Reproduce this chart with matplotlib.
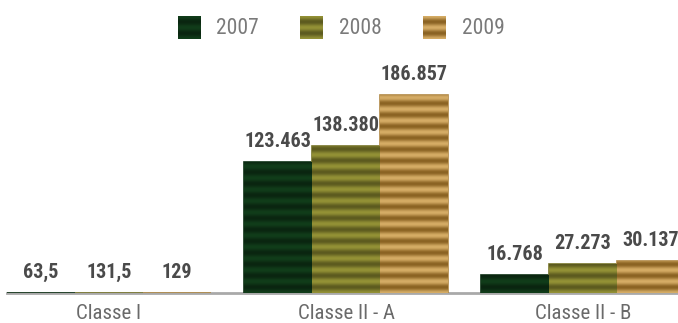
import numpy as np
import matplotlib
matplotlib.use("Agg")
import matplotlib.pyplot as plt
from matplotlib.colors import to_rgb

plt.rcParams['font.family'] = ['Roboto Condensed', 'DejaVu Sans']

categorias = ['Classe I', 'Classe II - A', 'Classe II - B']
anos = ['2007', '2008', '2009']
valores = {
    '2007': [63.5, 123463, 16768],
    '2008': [131.5, 138380, 27273],
    '2009': [129, 186857, 30137],
}
rotulos = {
    '2007': ['63,5', '123.463', '16.768'],
    '2008': ['131,5', '138.380', '27.273'],
    '2009': ['129', '186.857', '30.137'],
}

# tons escuro / claro das listras de cada ano
tons = {
    '2007': ('#0a2510', '#113d1a'),
    '2008': ('#5c5a1f', '#949236'),
    '2009': ('#8a6222', '#d6ad66'),
}
periodo_px = 11.5

W, H = 678, 323
fig = plt.figure(figsize=(W / 100, H / 100), dpi=100)
ax = fig.add_axes([7 / W, 30 / H, 1 - 7 / W, 293 / H])

ymax = 186857 * 293 / 198
largura = 68 / 237
x = np.arange(len(categorias))
x0 = -102 / 237
xlim = (x0, x0 + 671 / 237)
px_por_y = 293 / ymax


def listras(n_px, escuro, claro):
    y = np.linspace(0, n_px, max(int(n_px * 4), 2))
    v = 0.5 + 0.5 * np.cos(2 * np.pi * y / periodo_px)
    e, c = np.array(to_rgb(escuro)), np.array(to_rgb(claro))
    return (e + (c - e) * v[:, None])[:, None, :]


for j, ano in enumerate(anos):
    escuro, claro = tons[ano]
    meio = tuple((np.array(to_rgb(escuro)) + np.array(to_rgb(claro))) / 2)
    pos = x + (j - 1) * largura
    barras = ax.bar(pos, valores[ano], width=largura, color=meio,
                    edgecolor=meio, linewidth=1.2, zorder=3)
    for b, v, r in zip(barras, valores[ano], rotulos[ano]):
        h_px = v * px_por_y
        if h_px > 2:
            img = listras(h_px, escuro, claro)
            im = ax.imshow(img, extent=[b.get_x(), b.get_x() + b.get_width(), 0, v],
                           origin='lower', aspect='auto', interpolation='bilinear',
                           zorder=4)
            im.set_clip_path(b)
        ax.text(b.get_x() + b.get_width() / 2, v + 11 / px_por_y, r,
                ha='center', va='bottom', fontsize=14.5, fontweight='bold',
                color='#4a4a4a', zorder=5)

ax.set_xlim(*xlim)
ax.set_ylim(0, ymax)
ax.set_xticks(x)
ax.set_xticklabels(categorias, fontsize=15, color='#6a6a6a')
ax.tick_params(axis='x', length=0, pad=8)
ax.set_yticks([])
for s in ['top', 'right', 'left']:
    ax.spines[s].set_visible(False)
ax.spines['bottom'].set_color('#a9a9a9')
ax.spines['bottom'].set_linewidth(2)
ax.spines['bottom'].set_zorder(2)

# legenda com quadrados listrados
quad_x = [178, 300, 423]
texto_x = [216, 339, 462]
for ano, qx, tx in zip(anos, quad_x, texto_x):
    escuro, claro = tons[ano]
    lax = fig.add_axes([qx / W, 1 - 39 / H, 23 / W, 23 / H])
    lax.imshow(listras(23, escuro, claro), extent=[0, 1, 0, 1], origin='lower',
               aspect='auto', interpolation='bilinear')
    lax.axis('off')
    fig.text(tx / W, 1 - 28 / H, ano, ha='left', va='center', fontsize=15.5,
             color='#7a7a7a')

fig.savefig('out.png', dpi=100)
